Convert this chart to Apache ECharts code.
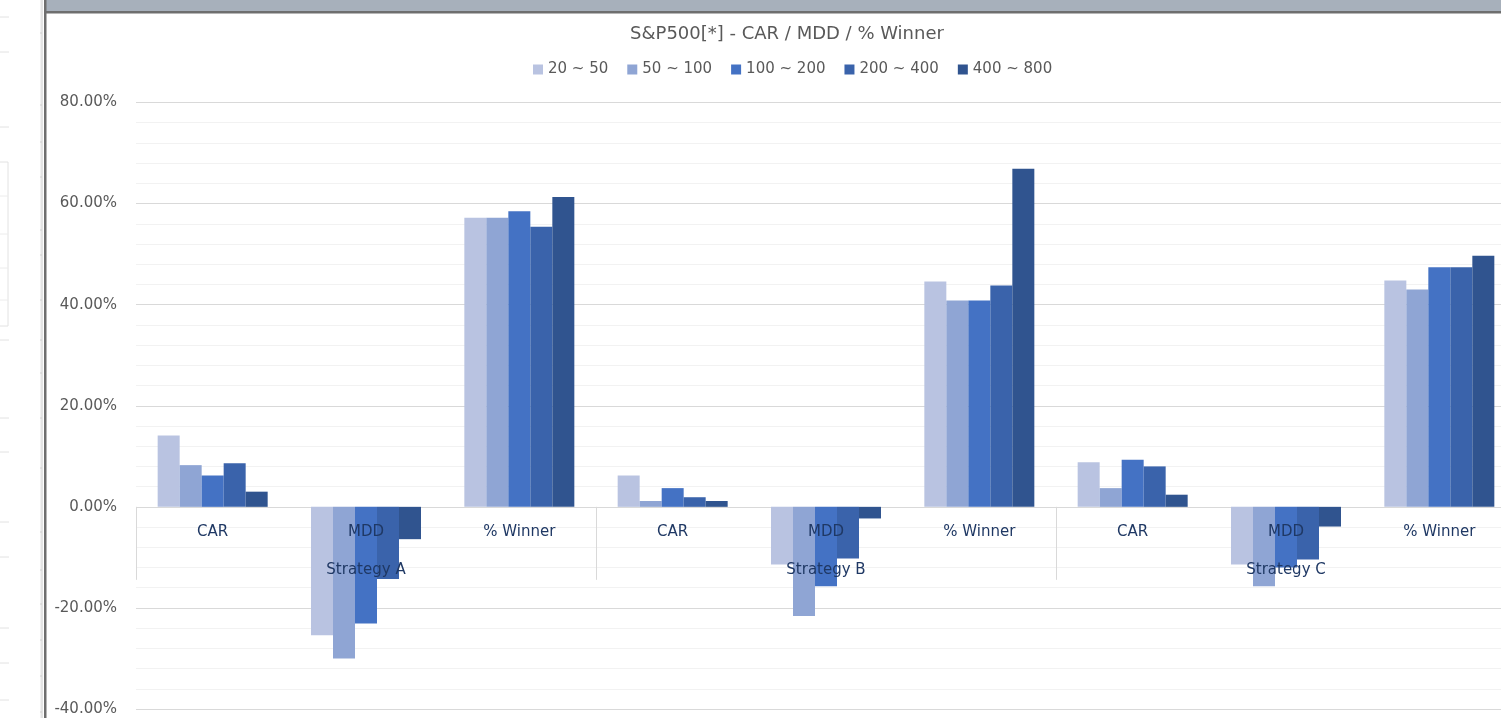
<!DOCTYPE html>
<html>
<head>
<meta charset="utf-8">
<script src="https://cdn.jsdelivr.net/npm/echarts@6/dist/echarts.min.js"></script>
<style>
  html, body { margin: 0; padding: 0; background: #ffffff; overflow: hidden; }
  #chart { width: 1574px; height: 718px; }
</style>
</head>
<body>
<div id="chart"></div>
<script>
// ---- data ----
const metrics = ['CAR', 'MDD', '% Winner', 'CAR', 'MDD', '% Winner', 'CAR', 'MDD', '% Winner'];
const strategies = ['Strategy A', 'Strategy B', 'Strategy C'];
const seriesNames = ['20 ~ 50', '50 ~ 100', '100 ~ 200', '200 ~ 400', '400 ~ 800'];
// values in percent, order: A CAR, A MDD, A %W, B CAR, B MDD, B %W, C CAR, C MDD, C %W
const s20_50   = [14.1, -25.4, 57.2, 6.2, -11.4, 44.6, 8.8, -11.4, 44.8];
const s50_100  = [8.25, -30.0, 57.2, 1.15, -21.6, 40.8, 3.7, -15.7, 43.0];
const s100_200 = [6.2, -23.1, 58.5, 3.7, -15.7, 40.8, 9.3, -12.0, 47.4];
const s200_400 = [8.6, -14.3, 55.4, 1.9, -10.2, 43.8, 8.0, -10.4, 47.4];
const s400_800 = [3.0, -6.4, 61.3, 1.15, -2.3, 66.9, 2.4, -3.9, 49.7];
const seriesValues = [s20_50, s50_100, s100_200, s200_400, s400_800];
const titleText = 'S&P500[*] - CAR / MDD / % Winner';
const yMin = -40, yMax = 80, yStep = 20;

// ---- styles ----
const colors = ['#b9c3e1', '#8fa5d4', '#4472c4', '#3a63ab', '#30548f'];
const FONT = 'DejaVu Sans';
const GRID_LEFT = 136, GRID_RIGHT = 58, GRID_TOP = 102.5, GRID_BOTTOM = 9, CH = 718;
const zeroY = GRID_TOP + (CH - GRID_TOP - GRID_BOTTOM) * (yMax / (yMax - yMin));

const chart = echarts.init(document.getElementById('chart'), null, { renderer: 'canvas' });

// decorative frame (spreadsheet window edges)
const frame = [];
frame.push({ type: 'rect', shape: { x: 46, y: 0, width: 1600, height: 12 }, style: { fill: '#a7b0bb' }, z: 100 });
frame.push({ type: 'rect', shape: { x: 44, y: 11, width: 1600, height: 2.5 }, style: { fill: '#6e6e6e' }, z: 100 });
frame.push({ type: 'rect', shape: { x: 44, y: 0, width: 2.5, height: 718 }, style: { fill: '#6e6e6e' }, z: 100 });
frame.push({ type: 'rect', shape: { x: 40.5, y: 0, width: 2.5, height: 718 }, style: { fill: '#e4e4e4' }, z: 100 });
[17, 52, 127, 340, 418, 452, 522, 557, 628, 663, 700].forEach(function (y) {
  frame.push({ type: 'line', shape: { x1: 0, y1: y, x2: 9, y2: y }, style: { stroke: '#e2e2e2', lineWidth: 1 }, z: 100 });
});
frame.push({ type: 'rect', shape: { x: -2, y: 162, width: 10, height: 164 }, style: { fill: 'none', stroke: '#e2e2e2', lineWidth: 1 }, z: 100 });
[196, 234, 268, 300].forEach(function (y) {
  frame.push({ type: 'line', shape: { x1: 0, y1: y, x2: 8, y2: y }, style: { stroke: '#ececec', lineWidth: 1 }, z: 100 });
});
[33, 105, 142, 177, 230, 255, 300, 340, 373, 418, 468, 532, 570, 604, 640, 676, 712].forEach(function (y) {
  frame.push({ type: 'line', shape: { x1: 40, y1: y, x2: 42, y2: y }, style: { stroke: '#d0d0d0', lineWidth: 1 }, z: 101 });
});

const option = {
  backgroundColor: '#ffffff',
  animation: false,
  color: colors,
  title: {
    text: titleText,
    left: 'center',
    top: 25,
    padding: 0,
    textStyle: { fontFamily: FONT, fontSize: 18, fontWeight: 'normal', color: '#595959' }
  },
  legend: {
    data: seriesNames,
    left: 533,
    top: 62,
    padding: 0,
    icon: 'rect',
    itemWidth: 10,
    itemHeight: 10,
    itemGap: 19,
    textStyle: { fontFamily: FONT, fontSize: 15, color: '#595959' }
  },
  grid: [
    { left: GRID_LEFT, right: GRID_RIGHT, top: GRID_TOP, bottom: GRID_BOTTOM, containLabel: false, outerBoundsMode: 'none' },
    { left: GRID_LEFT, right: GRID_RIGHT, top: zeroY - 1, height: 1, containLabel: false, outerBoundsMode: 'none' }
  ],
  xAxis: [
    {
      type: 'category',
      gridIndex: 0,
      data: metrics,
      show: false
    },
    {
      type: 'category',
      gridIndex: 1,
      data: metrics,
      position: 'bottom',
      z: 10,
      axisLine: { show: false },
      axisTick: { show: false },
      axisLabel: { margin: 18, fontFamily: FONT, fontSize: 15, color: '#1f3864', interval: 0 },
      splitLine: { show: false }
    },
    {
      type: 'category',
      gridIndex: 1,
      data: strategies,
      position: 'bottom',
      z: 10,
      axisLine: { show: false },
      axisTick: { show: true, length: 73, interval: 0, lineStyle: { color: '#d9d9d9', width: 1 } },
      axisLabel: { margin: 56, fontFamily: FONT, fontSize: 15, color: '#1f3864', interval: 0 },
      splitLine: { show: false }
    }
  ],
  yAxis: [
    {
      type: 'value',
      gridIndex: 0,
      min: yMin,
      max: yMax,
      interval: yStep,
      axisLine: { show: false },
      axisTick: { show: false },
      axisLabel: {
        margin: 19,
        fontFamily: FONT,
        fontSize: 15,
        color: '#595959',
        formatter: function (v) { return v.toFixed(2) + '%'; }
      },
      splitLine: { show: true, lineStyle: { color: '#d9d9d9', width: 1 } },
      minorTick: { show: false, splitNumber: 5 },
      minorSplitLine: { show: true, lineStyle: { color: '#f2f2f2', width: 1 } }
    },
    {
      type: 'value',
      gridIndex: 1,
      min: 0,
      max: 1,
      show: false
    }
  ],
  series: seriesNames.map(function (name, i) {
    return {
      name: name,
      type: 'bar',
      xAxisIndex: 0,
      yAxisIndex: 0,
      data: seriesValues[i],
      barWidth: 22,
      barGap: '0%',
      itemStyle: { color: colors[i] }
    };
  }),
  graphic: frame
};

chart.setOption(option);
</script>
</body>
</html>
